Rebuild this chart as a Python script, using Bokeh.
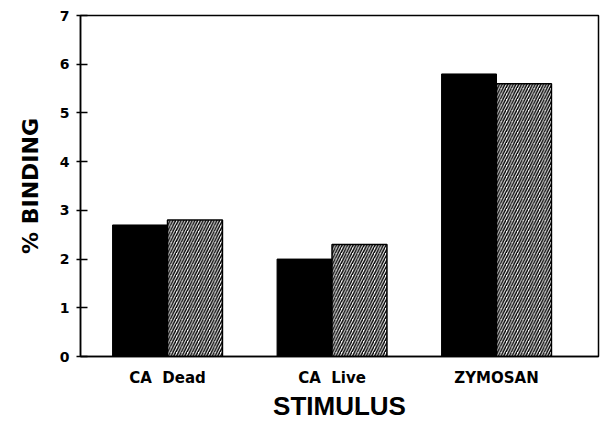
from bokeh.plotting import figure
from bokeh.models import FixedTicker, Range1d, ColumnDataSource
from bokeh.embed import file_html
from bokeh.resources import INLINE

# Data
categories = ["CA\u00a0 Dead", "CA\u00a0 Live", "ZYMOSAN"]
solid_values = [2.7, 2.0, 5.8]
hatched_values = [2.8, 2.3, 5.6]
y_ticks = [0, 1, 2, 3, 4, 5, 6, 7]

positions = [1, 2, 3]
bar_w = 0.334

p = figure(width=600, height=423, output_backend="svg", toolbar_location=None,
           x_range=Range1d(0.471, 3.62), y_range=Range1d(0, 7),
           min_border_left=80, min_border_right=2, min_border_top=15, min_border_bottom=67)
p.background_fill_color = "white"
p.border_fill_color = "white"
p.xgrid.visible = False
p.ygrid.visible = False
p.outline_line_color = "black"
p.outline_line_width = 1.5

solid_src = ColumnDataSource(dict(x=[c - bar_w / 2 for c in positions], top=solid_values))
hatch_src = ColumnDataSource(dict(x=[c + bar_w / 2 for c in positions], top=hatched_values))

p.vbar(x="x", top="top", bottom=0, width=bar_w, source=solid_src,
       fill_color="black", line_color="black", line_width=1)
p.vbar(x="x", top="top", bottom=0, width=bar_w, source=hatch_src,
       fill_color="white", line_color="black", line_width=1.5,
       hatch_pattern="/", hatch_color="black", hatch_scale=5.5, hatch_weight=1.5)

# x axis
xa = p.xaxis[0]
xa.ticker = FixedTicker(ticks=positions)
xa.major_label_overrides = {i: c for i, c in zip(positions, categories)}
xa.major_tick_line_color = None
xa.minor_tick_line_color = None
xa.major_tick_in = 0
xa.major_tick_out = 0
xa.major_label_standoff = 12
xa.major_label_text_font = "DejaVu Sans"
xa.major_label_text_font_style = "bold"
xa.major_label_text_font_size = "15px"
xa.major_label_text_color = "black"
xa.axis_line_color = "black"
xa.axis_line_width = 1.5
xa.axis_label = "STIMULUS"
xa.axis_label_text_font = "Liberation Sans"
xa.axis_label_text_font_style = "bold"
xa.axis_label_text_font_size = "26px"
xa.axis_label_text_color = "black"
xa.axis_label_standoff = 1

# y axis
ya = p.yaxis[0]
ya.ticker = FixedTicker(ticks=y_ticks)
ya.minor_tick_line_color = None
ya.major_tick_in = 7
ya.major_tick_out = 4
ya.major_tick_line_color = "black"
ya.major_tick_line_width = 1.5
ya.major_label_standoff = 7
ya.major_label_text_font = "DejaVu Sans"
ya.major_label_text_font_style = "bold"
ya.major_label_text_font_size = "14px"
ya.major_label_text_color = "black"
ya.axis_line_color = "black"
ya.axis_line_width = 1.5
ya.axis_label = "% BINDING"
ya.axis_label_text_font = "DejaVu Sans"
ya.axis_label_text_font_style = "bold"
ya.axis_label_text_font_size = "22px"
ya.axis_label_text_color = "black"
ya.axis_label_standoff = 14

open("out.html", "w").write(file_html(p, INLINE))
